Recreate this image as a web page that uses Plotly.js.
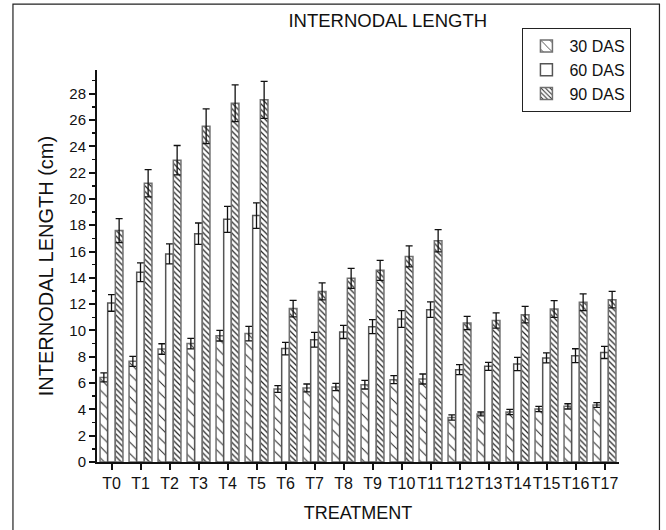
<!DOCTYPE html>
<html>
<head>
<meta charset="utf-8">
<script src="https://cdn.plot.ly/plotly-3.0.1.min.js"></script>
<style>html,body{margin:0;padding:0;background:#fff;}#chart{width:666px;height:530px;}</style>
</head>
<body>
<div id="chart"></div>
<script>
const categories = ["T0","T1","T2","T3","T4","T5","T6","T7","T8","T9","T10","T11","T12","T13","T14","T15","T16","T17"];
const das30 = [6.43,7.65,8.59,9.0,9.6,9.76,5.55,5.63,5.7,5.88,6.26,6.31,3.39,3.65,3.8,4.03,4.23,4.33];
const das30Err = [0.34,0.38,0.4,0.4,0.4,0.55,0.25,0.3,0.28,0.33,0.3,0.38,0.2,0.15,0.2,0.2,0.2,0.18];
const das60 = [12.09,14.42,15.82,17.36,18.45,18.73,8.62,9.3,9.89,10.29,10.87,11.58,7.02,7.27,7.45,7.91,8.08,8.33];
const das60Err = [0.63,0.71,0.76,0.81,0.99,0.97,0.48,0.56,0.5,0.53,0.63,0.59,0.38,0.3,0.5,0.38,0.53,0.46];
const das90 = [17.59,21.19,22.94,25.52,27.27,27.53,11.66,12.97,13.96,14.57,15.63,16.82,10.57,10.75,11.2,11.63,12.14,12.34];
const das90Err = [0.91,1.04,1.12,1.32,1.4,1.41,0.63,0.64,0.76,0.76,0.8,0.85,0.5,0.58,0.63,0.64,0.64,0.63];
const seriesNames = ["30 DAS","60 DAS","90 DAS"];

const FONT = "Liberation Sans, Arial, sans-serif";
const errStyle = {type:"data", visible:true, color:"#111", thickness:1.3, width:3.5};

const traces = [
  {type:"bar", name:seriesNames[0], x:categories, y:das30,
   error_y:Object.assign({array:das30Err}, errStyle),
   marker:{color:"#ffffff", line:{color:"#707070", width:1.5},
     pattern:{shape:"\\", size:8, solidity:0.12, fgcolor:"#222", bgcolor:"#ffffff"}}},
  {type:"bar", name:seriesNames[1], x:categories, y:das60,
   error_y:Object.assign({array:das60Err}, errStyle),
   marker:{color:"#ffffff", line:{color:"#555555", width:1.5}}},
  {type:"bar", name:seriesNames[2], x:categories, y:das90,
   error_y:Object.assign({array:das90Err}, errStyle),
   marker:{color:"#ffffff", line:{color:"#707070", width:1.5},
     pattern:{shape:"\\", size:4, solidity:0.3, fgcolor:"#222", bgcolor:"#ffffff"}}}
];

const layout = {
  width:666, height:530,
  margin:{l:96.5, r:46.5, t:70, b:67.7},
  paper_bgcolor:"#fff", plot_bgcolor:"#fff",
  font:{family:FONT, color:"#111"},
  barmode:"group", bargap:0.21, bargroupgap:0,
  showlegend:true,
  legend:{x:0.815, y:1.107, xanchor:"left", yanchor:"top",
    bgcolor:"#fff", bordercolor:"#222", borderwidth:1,
    font:{family:FONT, size:16, color:"#111"}, tracegroupgap:0, itemwidth:36},
  title:{text:"INTERNODAL LENGTH", font:{family:FONT, size:18.5, color:"#111"},
    x:0.557, xref:"paper", xanchor:"center", y:0.962, yanchor:"middle"},
  xaxis:{type:"category", range:[-0.5,17.5], showline:true, linecolor:"#111", linewidth:2,
    ticks:"outside", ticklen:6, tickwidth:2, tickcolor:"#111", tickangle:0,
    tickfont:{family:FONT, size:16, color:"#111"}, showgrid:false, zeroline:false,
    title:{text:"TREATMENT", font:{family:FONT, size:18, color:"#111"}, standoff:15}},
  xaxis2:{overlaying:"x", anchor:"y", side:"bottom", range:[-0.5,17.5], type:"linear",
    tick0:0.5, dtick:1, ticks:"outside", ticklen:3, tickwidth:1.5, tickcolor:"#111",
    showticklabels:false, showgrid:false, zeroline:false, showline:false},
  yaxis:{range:[0,29.8], showline:true, linecolor:"#111", linewidth:2,
    ticks:"outside", ticklen:6, tickwidth:2, tickcolor:"#111", dtick:2, tick0:0,
    minor:{dtick:1, ticks:"outside", ticklen:3, tickwidth:1.5, tickcolor:"#111", showgrid:false},
    tickfont:{family:FONT, size:15, color:"#111"}, showgrid:false, zeroline:false,
    title:{text:"INTERNODAL LENGTH (cm)", font:{family:FONT, size:20, color:"#111"}, standoff:10}},
  shapes:[
    {type:"rect", xref:"paper", yref:"paper", x0:-0.161, x1:1.0775, y0:-0.2, y1:1.168,
     line:{color:"#222", width:1.2}, fillcolor:"rgba(0,0,0,0)", layer:"below"}
  ]
};

Plotly.newPlot("chart", traces, layout, {displayModeBar:false, staticPlot:true});
</script>
</body>
</html>
